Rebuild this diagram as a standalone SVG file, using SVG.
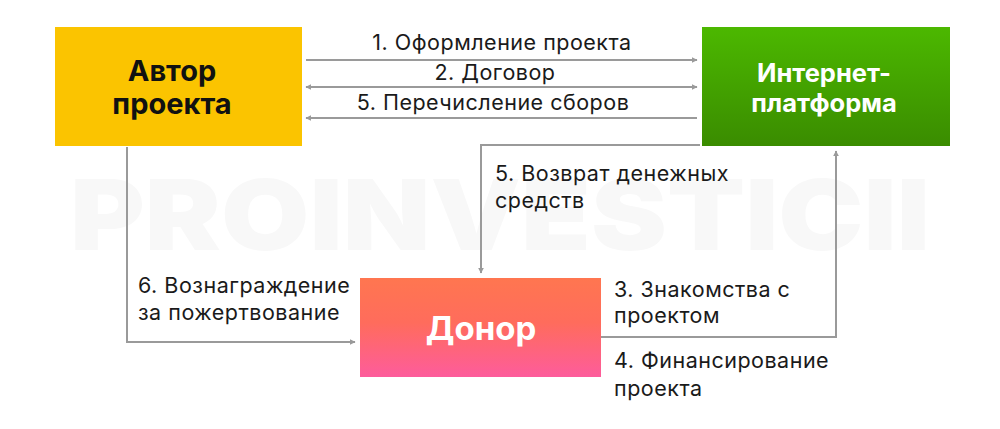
<svg xmlns="http://www.w3.org/2000/svg" width="1000" height="429" viewBox="0 0 1000 429">
<style>
.lbl{font-family:Inter,Roboto,"Liberation Sans",sans-serif;font-size:21.5px;letter-spacing:0.5px;fill:#1a1a1a}
.node{font-family:Inter,Roboto,"Liberation Sans",sans-serif;font-weight:700;text-anchor:middle}
.ln{stroke:#9a9a9a;stroke-width:2;fill:none}
</style>
<defs>
<marker id="ah" viewBox="0 0 10 10" refX="9" refY="5" markerWidth="6" markerHeight="6" orient="auto-start-reverse" markerUnits="userSpaceOnUse">
<path d="M0,0 L10,5 L0,10 z" fill="#9a9a9a"/>
</marker>
<linearGradient id="gGreen" x1="0" y1="0" x2="0" y2="1">
<stop offset="0" stop-color="#4cb800"/>
<stop offset="1" stop-color="#3a8c00"/>
</linearGradient>
<linearGradient id="gPink" x1="0" y1="0" x2="0" y2="1">
<stop offset="0" stop-color="#ff7650"/>
<stop offset="0.45" stop-color="#ff6c5c"/>
<stop offset="1" stop-color="#fd5c9c"/>
</linearGradient>
</defs>
<rect width="1000" height="429" fill="#ffffff"/>
<text x="70" y="250" font-family="Inter,'Liberation Sans',sans-serif" font-weight="900" font-size="98" fill="#f8f8f8" textLength="860" lengthAdjust="spacingAndGlyphs">PROINVESTICII</text>
<g id="connectors">
<line class="ln" x1="306" y1="60" x2="697" y2="60" marker-end="url(#ah)"/>
<line class="ln" x1="306" y1="87" x2="697" y2="87" marker-start="url(#ah)" marker-end="url(#ah)"/>
<line class="ln" x1="306" y1="118" x2="697" y2="118" marker-start="url(#ah)"/>
<polyline class="ln" points="700,145 481,145 481,273" marker-end="url(#ah)"/>
<polyline class="ln" points="127,147 127,342 355,342" marker-end="url(#ah)"/>
<polyline class="ln" points="601,337 836,337 836,151" marker-end="url(#ah)"/>
</g>
<g id="labels">
<text class="lbl" x="502" y="50" text-anchor="middle">1. Оформление проекта</text>
<text class="lbl" x="495" y="80" text-anchor="middle">2. Договор</text>
<text class="lbl" x="493" y="110" text-anchor="middle">5. Перечисление сборов</text>
<text class="lbl" x="495" y="181">5. Возврат денежных</text>
<text class="lbl" x="495" y="208">средств</text>
<text class="lbl" x="138" y="293">6. Вознаграждение</text>
<text class="lbl" x="138" y="320">за пожертвование</text>
<text class="lbl" x="614" y="297">3. Знакомства с</text>
<text class="lbl" x="614" y="323">проектом</text>
<text class="lbl" x="614" y="368">4. Финансирование</text>
<text class="lbl" x="614" y="396">проекта</text>
</g>
<g id="author">
<rect x="55" y="27" width="247" height="119" fill="#fbc400"/>
<text class="node" x="172" y="81" fill="#111" style="font-size:29px">Автор</text>
<text class="node" x="172" y="114" fill="#111" style="font-size:29px">проекта</text>
</g>
<g id="platform">
<rect x="702" y="27" width="248" height="119" fill="url(#gGreen)"/>
<text class="node" x="824" y="82" fill="#ffffff" style="font-size:25.5px">Интернет-</text>
<text class="node" x="824" y="112" fill="#ffffff" style="font-size:25.5px">платформа</text>
</g>
<g id="donor">
<rect x="360" y="278" width="241" height="99" fill="url(#gPink)"/>
<text class="node" x="481" y="340" fill="#ffffff" style="font-size:33px">Донор</text>
</g>
</svg>
